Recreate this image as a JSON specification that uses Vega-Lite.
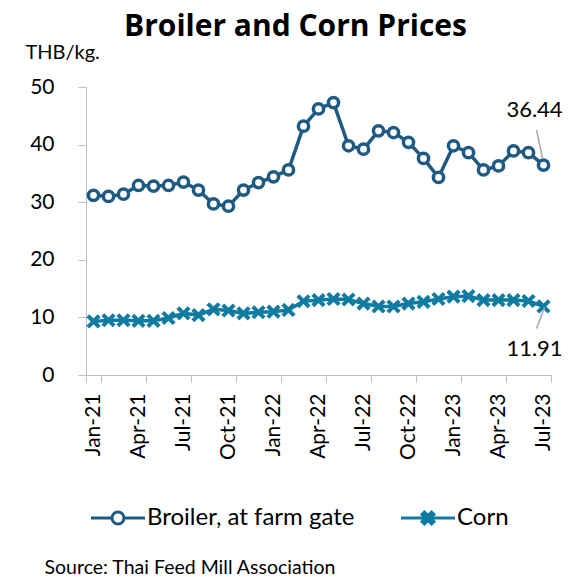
{
  "$schema": "https://vega.github.io/schema/vega-lite/v6.json",
  "width": 465,
  "height": 288,
  "autosize": {"type": "none"},
  "padding": {"left": 86, "top": 87, "right": 26, "bottom": 202},
  "background": "white",
  "config": {
    "font": "Lato",
    "view": {"stroke": null},
    "axis": {"labelFont": "Lato", "titleFont": "Lato", "labelColor": "#000000", "titleColor": "#000000", "domainColor": "#BFBFBF", "tickColor": "#BFBFBF", "grid": false}
  },
  "title": {
    "text": "Broiler and Corn Prices",
    "fontSize": 30,
    "fontWeight": "bold",
    "font": "Open Sans",
    "color": "#000000",
    "anchor": "middle",
    "dx": -23,
    "offset": 0
  },
  "data": {
    "values": [
      {"month": "Jan-21", "series": "Broiler, at farm gate", "value": 31.2},
      {"month": "Feb-21", "series": "Broiler, at farm gate", "value": 31.0},
      {"month": "Mar-21", "series": "Broiler, at farm gate", "value": 31.4},
      {"month": "Apr-21", "series": "Broiler, at farm gate", "value": 32.9},
      {"month": "May-21", "series": "Broiler, at farm gate", "value": 32.8},
      {"month": "Jun-21", "series": "Broiler, at farm gate", "value": 32.9},
      {"month": "Jul-21", "series": "Broiler, at farm gate", "value": 33.5},
      {"month": "Aug-21", "series": "Broiler, at farm gate", "value": 32.1},
      {"month": "Sep-21", "series": "Broiler, at farm gate", "value": 29.7},
      {"month": "Oct-21", "series": "Broiler, at farm gate", "value": 29.3},
      {"month": "Nov-21", "series": "Broiler, at farm gate", "value": 32.1},
      {"month": "Dec-21", "series": "Broiler, at farm gate", "value": 33.4},
      {"month": "Jan-22", "series": "Broiler, at farm gate", "value": 34.4},
      {"month": "Feb-22", "series": "Broiler, at farm gate", "value": 35.6},
      {"month": "Mar-22", "series": "Broiler, at farm gate", "value": 43.2},
      {"month": "Apr-22", "series": "Broiler, at farm gate", "value": 46.2},
      {"month": "May-22", "series": "Broiler, at farm gate", "value": 47.3},
      {"month": "Jun-22", "series": "Broiler, at farm gate", "value": 39.8},
      {"month": "Jul-22", "series": "Broiler, at farm gate", "value": 39.2},
      {"month": "Aug-22", "series": "Broiler, at farm gate", "value": 42.4},
      {"month": "Sep-22", "series": "Broiler, at farm gate", "value": 42.1},
      {"month": "Oct-22", "series": "Broiler, at farm gate", "value": 40.4},
      {"month": "Nov-22", "series": "Broiler, at farm gate", "value": 37.6},
      {"month": "Dec-22", "series": "Broiler, at farm gate", "value": 34.3},
      {"month": "Jan-23", "series": "Broiler, at farm gate", "value": 39.8},
      {"month": "Feb-23", "series": "Broiler, at farm gate", "value": 38.6},
      {"month": "Mar-23", "series": "Broiler, at farm gate", "value": 35.6},
      {"month": "Apr-23", "series": "Broiler, at farm gate", "value": 36.3},
      {"month": "May-23", "series": "Broiler, at farm gate", "value": 38.9},
      {"month": "Jun-23", "series": "Broiler, at farm gate", "value": 38.6},
      {"month": "Jul-23", "series": "Broiler, at farm gate", "value": 36.44},
      {"month": "Jan-21", "series": "Corn", "value": 9.3},
      {"month": "Feb-21", "series": "Corn", "value": 9.5},
      {"month": "Mar-21", "series": "Corn", "value": 9.5},
      {"month": "Apr-21", "series": "Corn", "value": 9.4},
      {"month": "May-21", "series": "Corn", "value": 9.4},
      {"month": "Jun-21", "series": "Corn", "value": 9.9},
      {"month": "Jul-21", "series": "Corn", "value": 10.7},
      {"month": "Aug-21", "series": "Corn", "value": 10.4},
      {"month": "Sep-21", "series": "Corn", "value": 11.4},
      {"month": "Oct-21", "series": "Corn", "value": 11.2},
      {"month": "Nov-21", "series": "Corn", "value": 10.7},
      {"month": "Dec-21", "series": "Corn", "value": 10.9},
      {"month": "Jan-22", "series": "Corn", "value": 11.0},
      {"month": "Feb-22", "series": "Corn", "value": 11.3},
      {"month": "Mar-22", "series": "Corn", "value": 12.8},
      {"month": "Apr-22", "series": "Corn", "value": 13.0},
      {"month": "May-22", "series": "Corn", "value": 13.2},
      {"month": "Jun-22", "series": "Corn", "value": 13.1},
      {"month": "Jul-22", "series": "Corn", "value": 12.4},
      {"month": "Aug-22", "series": "Corn", "value": 11.9},
      {"month": "Sep-22", "series": "Corn", "value": 11.9},
      {"month": "Oct-22", "series": "Corn", "value": 12.4},
      {"month": "Nov-22", "series": "Corn", "value": 12.7},
      {"month": "Dec-22", "series": "Corn", "value": 13.2},
      {"month": "Jan-23", "series": "Corn", "value": 13.6},
      {"month": "Feb-23", "series": "Corn", "value": 13.7},
      {"month": "Mar-23", "series": "Corn", "value": 13.0},
      {"month": "Apr-23", "series": "Corn", "value": 13.0},
      {"month": "May-23", "series": "Corn", "value": 13.0},
      {"month": "Jun-23", "series": "Corn", "value": 12.85},
      {"month": "Jul-23", "series": "Corn", "value": 11.91}
    ]
  },
  "encoding": {
    "x": {
      "field": "month",
      "type": "ordinal",
      "sort": null,
      "scale": {"paddingInner": 0, "paddingOuter": 0},
      "axis": {
        "values": ["Jan-21", "Apr-21", "Jul-21", "Oct-21", "Jan-22", "Apr-22", "Jul-22", "Oct-22", "Jan-23", "Apr-23", "Jul-23"],
        "tickBand": "extent",
        "labelAngle": -90,
        "labelFontSize": 21,
        "tickSize": 7,
        "labelPadding": 11,
        "title": "Source: Thai Feed Mill Association",
        "titleFontSize": 19.5,
        "titleFontWeight": "normal",
        "titleAngle": 0,
        "titleAlign": "left",
        "titleBaseline": "alphabetic",
        "titleX": -42,
        "titleY": 198
      }
    },
    "y": {
      "field": "value",
      "type": "quantitative",
      "scale": {"domain": [0, 50]},
      "axis": {
        "values": [0, 10, 20, 30, 40, 50],
        "labelFontSize": 21,
        "tickSize": 8,
        "labelPadding": 24,
        "title": "THB/kg.",
        "titleFontSize": 20,
        "titleFontWeight": "normal",
        "titleAngle": 0,
        "titleAlign": "left",
        "titleBaseline": "alphabetic",
        "titleX": -61,
        "titleY": -29
      }
    }
  },
  "layer": [
    {
      "mark": {"type": "line", "strokeWidth": 3.5},
      "encoding": {
        "color": {
          "field": "series",
          "type": "nominal",
          "scale": {"domain": ["Broiler, at farm gate", "Corn"], "range": ["#1F5A82", "#0F7BA0"]},
          "legend": {
            "title": null,
            "orient": "none",
            "direction": "horizontal",
            "legendX": 20,
            "legendY": 419,
            "padding": 0,
            "symbolSize": 144,
            "labelOffset": 17,
            "columnPadding": 40,
            "labelFontSize": 24,
            "labelFont": "Lato",
            "labelLimit": 0,
            "labelColor": "#000000",
            "encode": {
              "symbols": {
                "update": {
                  "shape": {"signal": "datum.value === 'Corn' ? 'M-4.5,0L4.5,0M-1,-0.6L-0.6,-1L0,-0.4L0.6,-1L1,-0.6L0.4,0L1,0.6L0.6,1L0,0.4L-0.6,1L-1,0.6L-0.4,0Z' : 'M-4.5,0L-1,0M1,0L4.5,0M-1,0A1,1,0,1,0,1,0A1,1,0,1,0,-1,0Z'"},
                  "fill": {"signal": "datum.value === 'Corn' ? '#0F7BA0' : '#FFFFFF'"},
                  "stroke": {"signal": "datum.value === 'Corn' ? '#0F7BA0' : '#1F5A82'"},
                  "strokeWidth": {"value": 3},
                  "opacity": {"value": 1},
                  "fillOpacity": {"value": 1}
                }
              }
            }
          }
        }
      }
    },
    {
      "transform": [{"filter": "datum.series === 'Broiler, at farm gate'"}],
      "mark": {"type": "point", "shape": "circle", "filled": false, "fill": "#FFFFFF", "stroke": "#1F5A82", "strokeWidth": 3.5, "size": 105, "opacity": 1, "fillOpacity": 1}
    },
    {
      "transform": [{"filter": "datum.series === 'Corn'"}],
      "mark": {"type": "point", "shape": "M-1,-0.6L-0.6,-1L0,-0.4L0.6,-1L1,-0.6L0.4,0L1,0.6L0.6,1L0,0.4L-0.6,1L-1,0.6L-0.4,0Z", "filled": true, "color": "#0F7BA0", "size": 200, "opacity": 1}
    },
    {
      "transform": [{"filter": "datum.series === 'Broiler, at farm gate' && datum.month === 'Jul-23'"}],
      "mark": {"type": "text", "fontSize": 22, "font": "Lato", "color": "#000000", "dx": -9, "dy": -55},
      "encoding": {"text": {"field": "value", "type": "quantitative", "format": ".2f"}}
    },
    {
      "transform": [{"filter": "datum.series === 'Corn' && datum.month === 'Jul-23'"}],
      "mark": {"type": "text", "fontSize": 22, "font": "Lato", "color": "#000000", "dx": -9, "dy": 43},
      "encoding": {"text": {"field": "value", "type": "quantitative", "format": ".2f"}}
    },
    {
      "transform": [{"filter": "datum.series === 'Broiler, at farm gate' && datum.month === 'Jul-23'"}],
      "mark": {"type": "rule", "color": "#A6A6A6", "strokeWidth": 1.5, "xOffset": -7, "yOffset": -35, "x2Offset": -1, "y2Offset": -7},
      "encoding": {"x2": {"field": "month"}, "y2": {"field": "value"}}
    },
    {
      "transform": [{"filter": "datum.series === 'Corn' && datum.month === 'Jul-23'"}],
      "mark": {"type": "rule", "color": "#A6A6A6", "strokeWidth": 1.5, "xOffset": 1, "yOffset": 1, "x2Offset": -7, "y2Offset": 22},
      "encoding": {"x2": {"field": "month"}, "y2": {"field": "value"}}
    }
  ]
}
